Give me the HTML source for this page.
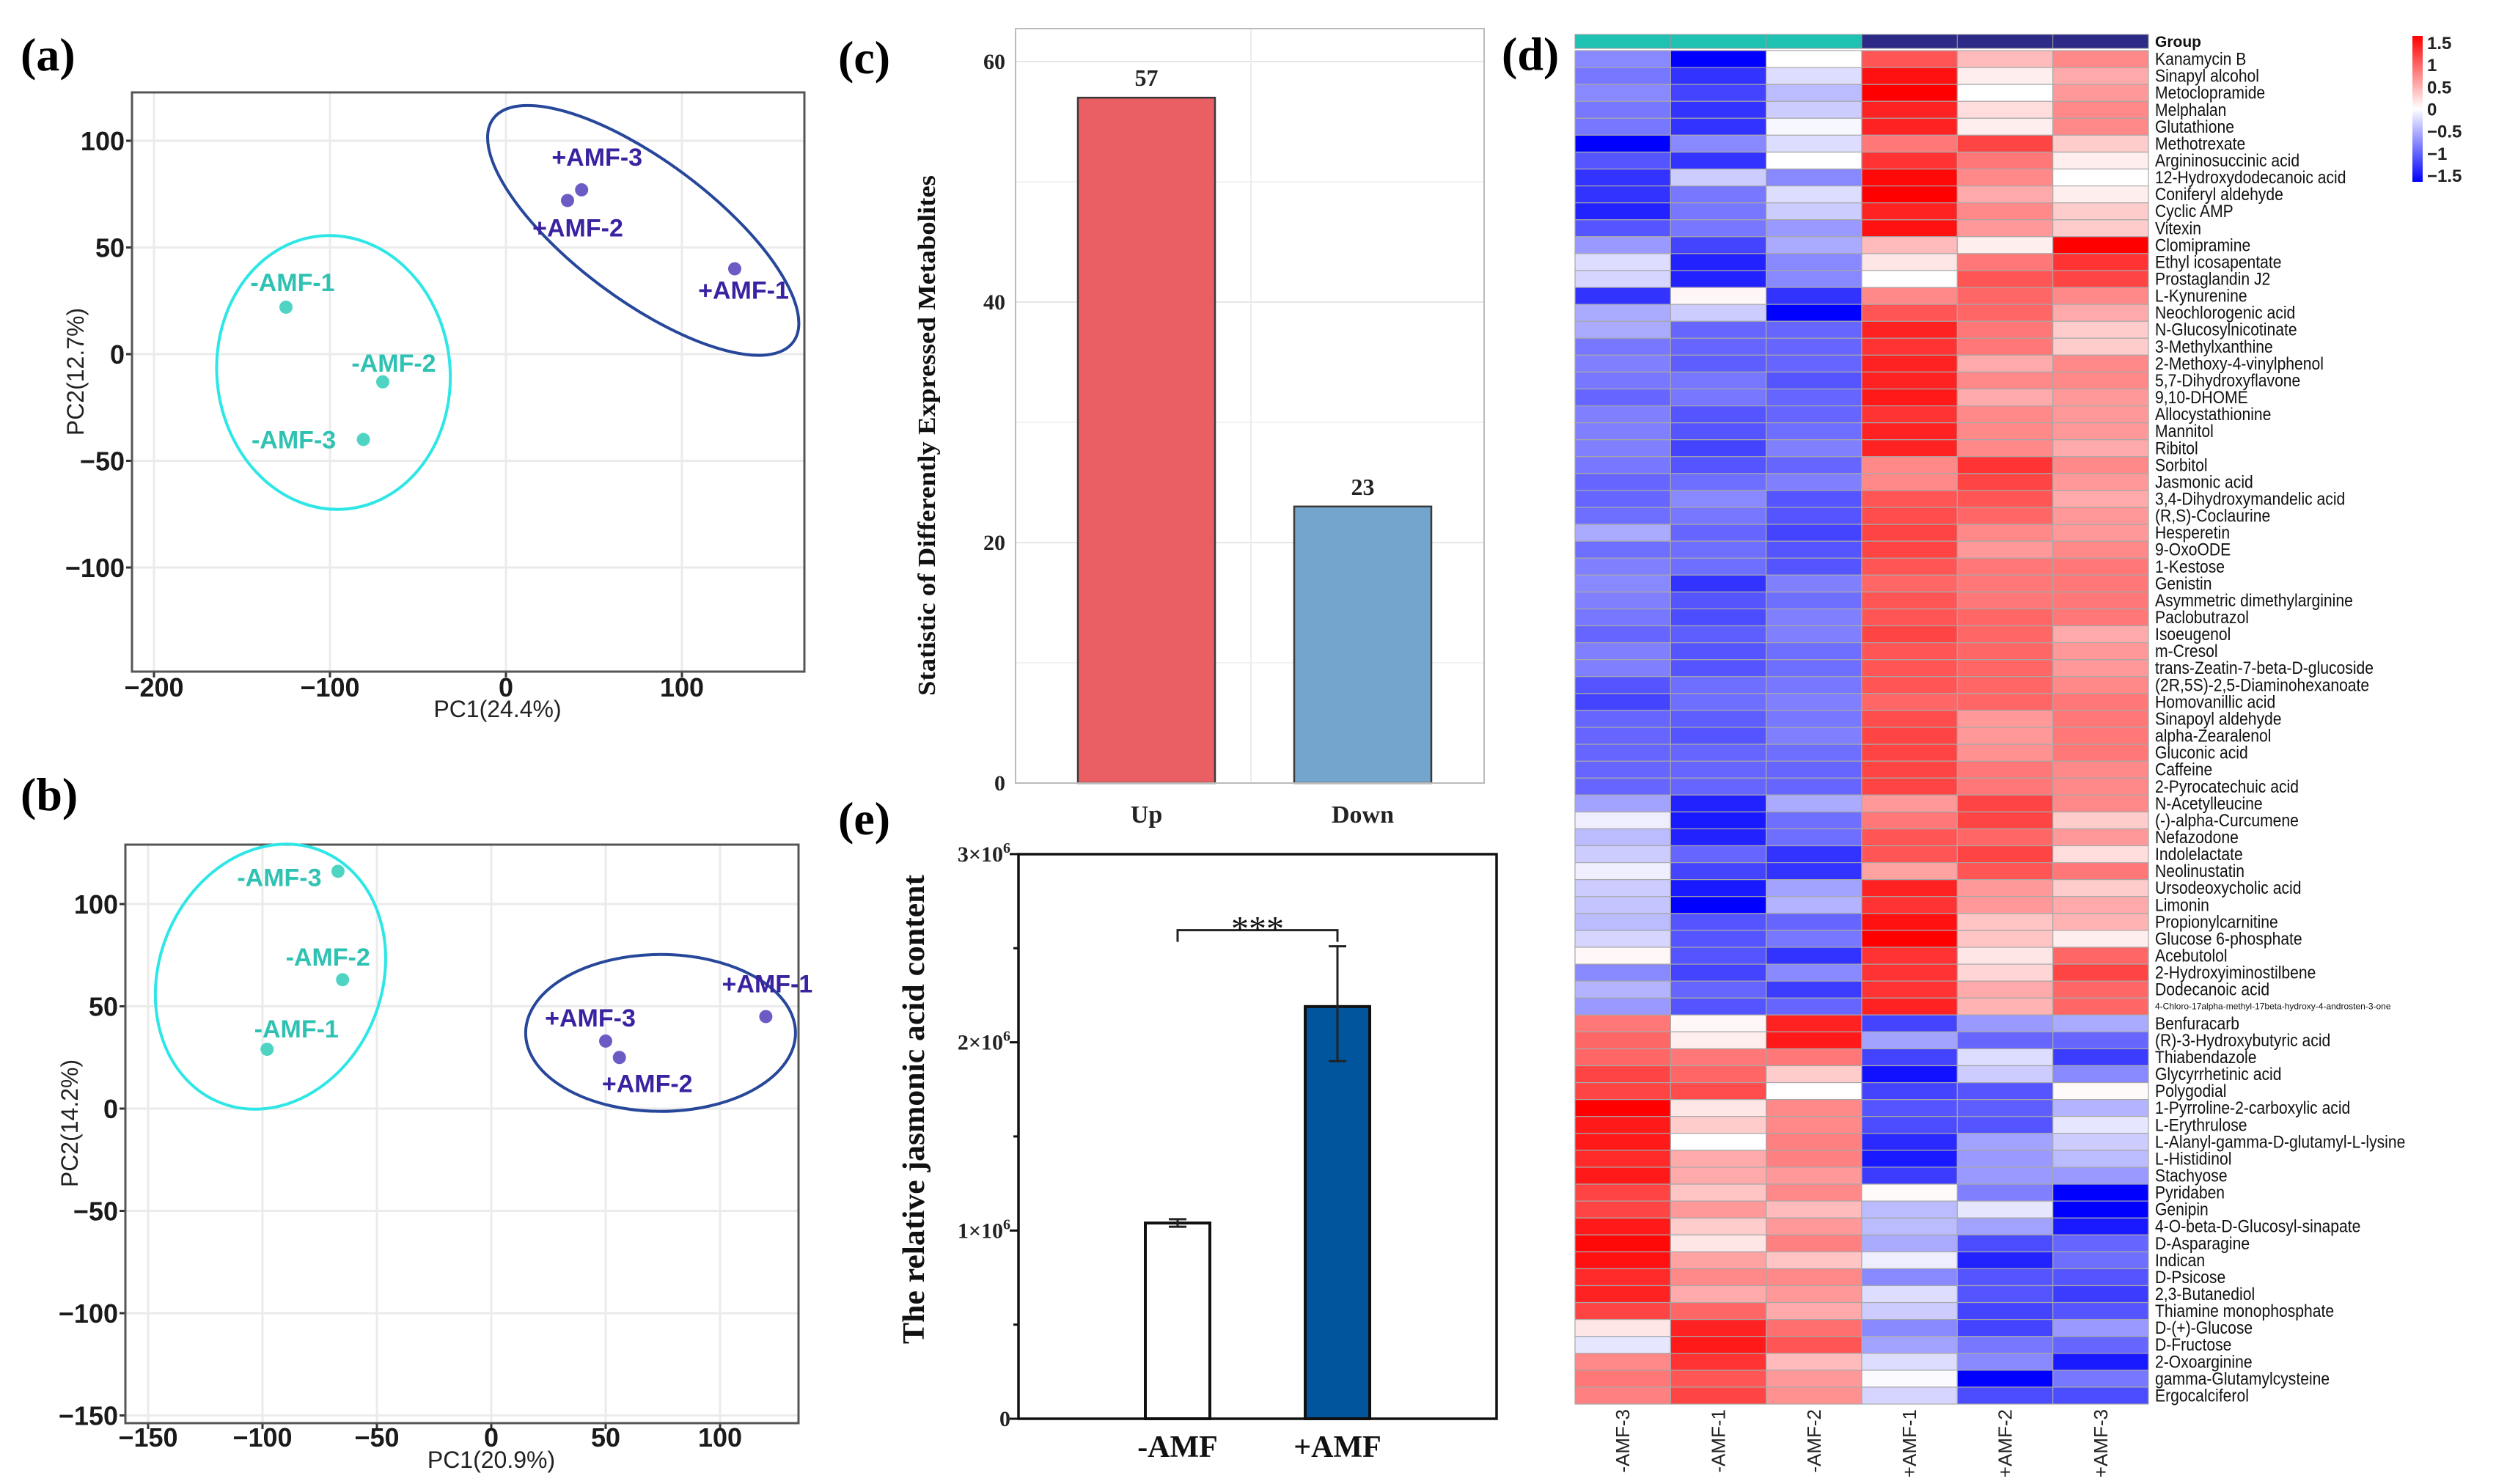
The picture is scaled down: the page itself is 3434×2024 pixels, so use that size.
<!DOCTYPE html>
<html><head><meta charset="utf-8"><style>
html,body{margin:0;padding:0;background:#fff}
svg{display:block}
text{font-family:"Liberation Sans",sans-serif}
.serif{font-family:"Liberation Serif",serif}
</style></head><body>
<svg id="fig" xmlns="http://www.w3.org/2000/svg" width="3434" height="2024" viewBox="0 0 3434 2024">
<rect width="3434" height="2024" fill="#fff"/>
<g id="pa"></g>
<g id="pb"></g>
<g id="pc"></g>
<g id="pe"></g>
<g id="pd"></g>
</svg>
<script>
const NS="http://www.w3.org/2000/svg";
// ---------- data ----------
const pcaALabels=["-AMF-1","-AMF-2","-AMF-3","+AMF-1","+AMF-2","+AMF-3"];
const pcaAX=[-125,-70,-81,130,35,43];
const pcaAY=[22,-13,-40,40,72,77];
const pcaBLabels=["-AMF-1","-AMF-2","-AMF-3","+AMF-1","+AMF-2","+AMF-3"];
const pcaBX=[-98,-65,-67,120,56,50];
const pcaBY=[29,63,116,45,25,33];
const pcaAXTicks=[-200,-100,0,100];
const pcaAYTicks=[100,50,0,-50,-100];
const pcaBXTicks=[-150,-100,-50,0,50,100];
const pcaBYTicks=[100,50,0,-50,-100,-150];
const degCats=["Up","Down"];
const degVals=[57,23];
const degTicks=[0,20,40,60];
const jaCats=["-AMF","+AMF"];
const jaVals=[1.04,2.19];
const jaErrLo=[1.02,1.90];
const jaErrHi=[1.06,2.51];
const jaTicks=[0,1,2,3];
const hmCols=["-AMF-3","-AMF-1","-AMF-2","+AMF-1","+AMF-2","+AMF-3"];
const hmRows=["Kanamycin B","Sinapyl alcohol","Metoclopramide","Melphalan","Glutathione","Methotrexate","Argininosuccinic acid","12-Hydroxydodecanoic acid","Coniferyl aldehyde","Cyclic AMP","Vitexin","Clomipramine","Ethyl icosapentate","Prostaglandin J2","L-Kynurenine","Neochlorogenic acid","N-Glucosylnicotinate","3-Methylxanthine","2-Methoxy-4-vinylphenol","5,7-Dihydroxyflavone","9,10-DHOME","Allocystathionine","Mannitol","Ribitol","Sorbitol","Jasmonic acid","3,4-Dihydroxymandelic acid","(R,S)-Coclaurine","Hesperetin","9-OxoODE","1-Kestose","Genistin","Asymmetric dimethylarginine","Paclobutrazol","Isoeugenol","m-Cresol","trans-Zeatin-7-beta-D-glucoside","(2R,5S)-2,5-Diaminohexanoate","Homovanillic acid","Sinapoyl aldehyde","alpha-Zearalenol","Gluconic acid","Caffeine","2-Pyrocatechuic acid","N-Acetylleucine","(-)-alpha-Curcumene","Nefazodone","Indolelactate","Neolinustatin","Ursodeoxycholic acid","Limonin","Propionylcarnitine","Glucose 6-phosphate","Acebutolol","2-Hydroxyiminostilbene","Dodecanoic acid","4-Chloro-17alpha-methyl-17beta-hydroxy-4-androsten-3-one","Benfuracarb","(R)-3-Hydroxybutyric acid","Thiabendazole","Glycyrrhetinic acid","Polygodial","1-Pyrroline-2-carboxylic acid","L-Erythrulose","L-Alanyl-gamma-D-glutamyl-L-lysine","L-Histidinol","Stachyose","Pyridaben","Genipin","4-O-beta-D-Glucosyl-sinapate","D-Asparagine","Indican","D-Psicose","2,3-Butanediol","Thiamine monophosphate","D-(+)-Glucose","D-Fructose","2-Oxoarginine","gamma-Glutamylcysteine","Ergocalciferol"];
const hmVals=[
[-0.7,-1.5,0,1.0,0.4,0.7],[-0.8,-1.2,-0.2,1.4,0.1,0.5],[-0.7,-1.1,-0.4,1.5,0,0.6],[-0.8,-1.2,-0.3,1.3,0.2,0.7],[-0.8,-1.2,-0.05,1.3,0.1,0.7],
[-1.5,-0.7,-0.2,0.8,1.1,0.3],[-1.0,-1.2,0,1.2,0.8,0.1],[-1.2,-0.3,-0.7,1.45,0.7,0],[-1.2,-0.8,-0.2,1.5,0.5,0.1],[-1.3,-0.8,-0.3,1.3,0.7,0.3],
[-1.0,-0.8,-0.6,1.4,0.6,0.3],[-0.6,-1.1,-0.5,0.4,0.1,1.5],[-0.2,-1.3,-0.7,0.15,0.8,1.2],[-0.25,-1.3,-0.7,0,1.0,1.1],[-1.2,0.05,-1.2,0.7,0.9,0.7],
[-0.5,-0.3,-1.5,1.0,0.9,0.5],[-0.5,-0.9,-0.9,1.3,0.8,0.3],[-0.8,-0.9,-0.9,1.2,0.8,0.3],[-0.75,-0.95,-0.9,1.3,0.5,0.7],[-0.8,-0.8,-1.0,1.3,0.7,0.7],
[-0.9,-0.8,-0.9,1.35,0.5,0.6],[-0.75,-1.0,-0.9,1.2,0.7,0.6],[-0.75,-1.0,-0.85,1.3,0.7,0.6],[-0.75,-1.1,-0.75,1.3,0.7,0.5],[-0.8,-1.0,-0.9,0.7,1.2,0.7],
[-0.9,-0.85,-0.75,0.7,1.1,0.6],[-0.9,-0.7,-1.0,1.0,1.0,0.5],[-0.85,-0.8,-1.0,1.05,0.9,0.6],[-0.5,-0.9,-1.1,1.1,0.7,0.6],[-0.85,-0.85,-1.0,1.1,0.6,0.7],
[-0.75,-0.85,-1.0,1.0,0.8,0.8],[-0.7,-1.2,-0.75,0.9,0.8,0.8],[-0.75,-1.0,-0.85,1.0,0.8,0.8],[-0.8,-1.05,-0.75,1.0,0.9,0.8],[-0.9,-0.95,-0.75,1.1,0.9,0.5],
[-0.75,-1.0,-0.85,1.0,0.9,0.6],[-0.75,-1.0,-0.85,1.0,0.9,0.6],[-1.0,-0.85,-0.8,1.0,0.9,0.7],[-1.1,-0.85,-0.75,0.9,0.9,0.8],[-0.9,-0.95,-0.8,1.05,0.6,0.8],
[-0.9,-1.0,-0.75,1.1,0.6,0.8],[-0.9,-0.9,-0.85,1.1,0.65,0.8],[-0.9,-0.9,-0.9,1.1,0.8,0.7],[-0.9,-0.9,-0.9,1.1,0.8,0.7],[-0.55,-1.3,-0.5,0.6,1.1,0.7],
[-0.1,-1.35,-0.85,0.8,1.1,0.3],[-0.4,-1.3,-0.85,1.0,0.9,0.6],[-0.3,-0.9,-1.2,1.0,1.1,0.2],[-0.1,-1.1,-1.2,0.55,1.0,0.8],[-0.3,-1.35,-0.55,1.3,0.6,0.3],
[-0.35,-1.5,-0.45,1.2,0.6,0.5],[-0.4,-1.0,-0.9,1.4,0.35,0.45],[-0.25,-1.0,-0.8,1.5,0.35,0.1],[0.05,-1.0,-1.2,1.2,0.15,0.9],[-0.7,-1.1,-0.7,1.2,0.25,1.1],
[-0.45,-0.9,-1.15,1.2,0.5,0.9],[-0.6,-1.0,-0.9,1.3,0.45,0.9],[0.8,0.05,1.3,-1.1,-0.6,-0.5],[0.9,0.1,1.35,-0.55,-0.9,-0.9],[0.9,0.8,0.8,-1.1,-0.2,-1.15],
[1.1,0.9,0.3,-1.4,-0.3,-0.7],[1.1,1.05,0,-1.1,-1.0,0.03],[1.5,0.15,0.7,-1.0,-0.95,-0.45],[1.35,0.3,0.7,-1.05,-1.0,-0.15],[1.35,0,0.75,-1.25,-0.55,-0.3],
[1.25,0.5,0.75,-1.35,-0.6,-0.4],[1.35,0.5,0.6,-1.15,-0.6,-0.6],[1.1,0.35,0.7,0.03,-0.75,-1.5],[1.1,0.6,0.4,-0.4,-0.15,-1.5],[1.35,0.3,0.6,-0.4,-0.55,-1.35],
[1.45,0.15,0.75,-0.5,-1.05,-0.9],[1.4,0.55,0.35,-0.1,-1.3,-0.85],[1.25,0.7,0.7,-0.7,-1.0,-1.0],[1.3,0.5,0.6,-0.2,-1.0,-1.15],[1.1,0.9,0.5,-0.3,-1.1,-1.0],
[0.15,1.3,0.85,-0.7,-1.1,-0.6],[-0.15,1.35,1.0,-0.55,-0.8,-0.9],[0.7,1.2,0.4,-0.2,-0.7,-1.35],[0.8,1.0,0.6,-0.03,-1.5,-0.8],[0.75,1.1,0.65,-0.25,-1.05,-1.05]];
const hmLegendTicks=[1.5,1,0.5,0,-0.5,-1,-1.5];
const hmLegendText=["1.5","1","0.5","0","\u22120.5","\u22121","\u22121.5"];

// ---------- helpers ----------
function el(tag,attrs,parent,txt){const e=document.createElementNS(NS,tag);for(const k in attrs)e.setAttribute(k,attrs[k]);if(txt!==undefined)e.textContent=txt;parent.appendChild(e);return e;}

// ---------- PCA panels ----------
function pca(gid,cfg){
  const g=document.getElementById(gid);
  const sx=v=>cfg.x0+v*cfg.kx, sy=v=>cfg.y0-v*cfg.ky;
  const bg=el('rect',{x:cfg.L,y:cfg.T,width:cfg.R-cfg.L,height:cfg.B-cfg.T,fill:'#fff'},g);
  
  
  cfg.xt.forEach(v=>{const l=el('line',{x1:sx(v),x2:sx(v),y1:cfg.T,y2:cfg.B,stroke:'#ebebeb','stroke-width':3},g);
    
    
    el('line',{x1:sx(v),x2:sx(v),y1:cfg.B,y2:cfg.B+8,stroke:'#333','stroke-width':3},g);
    const t=el('text',{x:sx(v),y:cfg.xlabY,'text-anchor':'middle','font-size':36,'font-weight':'bold',fill:'#1a1a1a'},g,String(v).replace('-','\u2212'));
    
    });
  cfg.yt.forEach(v=>{const l=el('line',{x1:cfg.L,x2:cfg.R,y1:sy(v),y2:sy(v),stroke:'#ebebeb','stroke-width':3},g);
    
    
    el('line',{x1:cfg.L-8,x2:cfg.L,y1:sy(v),y2:sy(v),stroke:'#333','stroke-width':3},g);
    const t=el('text',{x:cfg.L-10,y:sy(v)+13,'text-anchor':'end','font-size':36,'font-weight':'bold',fill:'#1a1a1a'},g,String(v).replace('-','\u2212'));
    
    });
  const fr=el('rect',{x:cfg.L,y:cfg.T,width:cfg.R-cfg.L,height:cfg.B-cfg.T,fill:'none',stroke:'#555','stroke-width':3},g);
  
  
  cfg.ell.forEach(e=>{const c=el('ellipse',{cx:sx(e.cx),cy:sy(e.cy),rx:e.rx,ry:e.ry,fill:'none',stroke:e.col,'stroke-width':4,transform:`rotate(${e.rot} ${sx(e.cx)} ${sy(e.cy)})`},g);
    
    });
  cfg.labels.forEach((lab,i)=>{const neg=lab[0]==='-';
    const p=el('circle',{cx:sx(cfg.X[i]),cy:sy(cfg.Y[i]),r:9,fill:neg?'#4fd4c4':'#6b5bc4'},g);
    
    
    const o=cfg.off[i];
    const t=el('text',{x:sx(cfg.X[i])+o[0],y:sy(cfg.Y[i])+o[1],'text-anchor':'middle','font-size':34,'font-weight':'bold',fill:neg?'#2fc2b2':'#3b22a0'},g,lab);
    
    });
  const lt=el('text',{x:cfg.lx,y:cfg.ly,'font-size':64,'font-weight':'bold',class:'serif',fill:'#000'},g,cfg.letter);
  
  
  const xt=el('text',{x:(cfg.L+cfg.R)/2+40,y:cfg.xtitleY,'text-anchor':'middle','font-size':32,fill:'#222'},g,cfg.xtitle);
  
  
  const yt=el('text',{x:0,y:0,'text-anchor':'middle','font-size':32,fill:'#222',transform:`translate(${cfg.ytitleX},${cfg.ytitleY}) rotate(-90)`},g,cfg.ytitle);
  
  
}
pca('pa',{L:180,R:1097,T:126,B:916,x0:690,kx:2.4,y0:483,ky:2.91,xt:pcaAXTicks,yt:pcaAYTicks,xlabY:950,
  X:pcaAX,Y:pcaAY,labels:pcaALabels,off:[[9,-22],[15,-14],[-95,12],[12,41],[14,49],[21,-33]],
  ell:[{cx:-98,cy:-8.6,rx:159,ry:187,rot:-6,col:'#2ee6e6'},{cx:78,cy:58,rx:255,ry:95,rot:36.7,col:'#27479a'}],
  letter:'(a)',lx:28,ly:96,xtitle:'PC1(24.4%)',xtitleY:978,ytitle:'PC2(12.7%)',ytitleX:114,ytitleY:507});
pca('pb',{L:171,R:1089,T:1152,B:1941,x0:670,kx:3.12,y0:1512,ky:2.79,xt:pcaBXTicks,yt:pcaBYTicks,xlabY:1973,
  X:pcaBX,Y:pcaBY,labels:pcaBLabels,off:[[40,-16],[-20,-19],[-80,20],[2,-33],[38,47],[-21,-20]],
  ell:[{cx:-96.5,cy:64.5,rx:152,ry:185,rot:22,col:'#2ee6e6'},{cx:74,cy:37,rx:184,ry:107,rot:0,col:'#27479a'}],
  letter:'(b)',lx:28,ly:1105,xtitle:'PC1(20.9%)',xtitleY:2002,ytitle:'PC2(14.2%)',ytitleX:106,ytitleY:1532});

// ---------- panel c ----------
(function(){
  const g=document.getElementById('pc');
  const L=1385,R=2024,T=39,B=1068,k=16.4;
  const sy=v=>B-v*k;
  const bx=[1470,1765],bw=187;
  for(let v=0;v<=60;v+=10){const l=el('line',{x1:L,x2:R,y1:sy(v),y2:sy(v),stroke:v%20===0?'#e6e6e6':'#f2f2f2','stroke-width':2},g);
    
    }
  el('line',{x1:1706,x2:1706,y1:T,y2:B,stroke:'#ececec','stroke-width':2},g);
  degTicks.forEach(v=>{const t=el('text',{x:1371,y:sy(v)+10,'text-anchor':'end','font-size':30,'font-weight':'bold',class:'serif',fill:'#222'},g,String(v));
    
    });
  const cols=['#e95f63','#74a5cd'];
  degVals.forEach((v,i)=>{const r=el('rect',{x:bx[i],y:sy(v),width:bw,height:B-sy(v),fill:cols[i],stroke:'#3a3a3a','stroke-width':2.5},g);
    
    
    const t=el('text',{x:bx[i]+bw/2,y:sy(v)-16,'text-anchor':'middle','font-size':32,'font-weight':'bold',class:'serif',fill:'#222'},g,String(v));
    
    
    const c=el('text',{x:bx[i]+bw/2,y:1122,'text-anchor':'middle','font-size':34,'font-weight':'bold',class:'serif',fill:'#222'},g,degCats[i]);
    
    });
  const fr=el('rect',{x:L,y:T,width:R-L,height:B-T,fill:'none',stroke:'#bbb','stroke-width':2},g);
  
  
  const yt=el('text',{x:0,y:0,'text-anchor':'middle','font-size':34,'font-weight':'bold',class:'serif',fill:'#111',textLength:710,lengthAdjust:'spacingAndGlyphs',transform:'translate(1275,594) rotate(-90)'},g,'Statistic of Differently Expressed Metabolites');
  
  
  const lt=el('text',{x:1143,y:100,'font-size':64,'font-weight':'bold',class:'serif'},g,'(c)');
  
  
})();

// ---------- panel e ----------
(function(){
  const g=document.getElementById('pe');
  const L=1389,R=2041,T=1165,B=1935,k=256.7;
  const sy=v=>B-v*k;
  const bx=[1562,1780],bw=88;
  for(let v=0;v<=3;v+=0.5){const l=el('line',{x1:L-(v%1===0?12:7),x2:L,y1:sy(v),y2:sy(v),stroke:'#111','stroke-width':3},g);
    
    }
  jaTicks.forEach(v=>{const t=el('text',{x:1378,y:sy(v)+10,'text-anchor':'end','font-size':30,'font-weight':'bold',class:'serif',fill:'#222'},g);
    
    
    if(v===0){t.textContent='0';}else{t.textContent=v+'\u00d710';el('tspan',{dy:-12,'font-size':20},t,'6');}});
  const cols=['#ffffff','#01559c'];
  jaVals.forEach((v,i)=>{const r=el('rect',{x:bx[i],y:sy(v),width:bw,height:B-sy(v),fill:cols[i],stroke:'#111','stroke-width':4},g);
    
    
    const cx=bx[i]+bw/2;
    const e=el('path',{d:`M${cx} ${sy(jaErrLo[i])}V${sy(jaErrHi[i])}M${cx-12} ${sy(jaErrLo[i])}H${cx+12}M${cx-12} ${sy(jaErrHi[i])}H${cx+12}`,stroke:'#222','stroke-width':3,fill:'none'},g);
    
    
    const c=el('text',{x:cx,y:1987,'text-anchor':'middle','font-size':42,'font-weight':'bold',class:'serif',fill:'#111'},g,jaCats[i]);
    
    });
  const by=sy(Math.max(...jaErrHi))-22;
  const br=el('path',{d:`M${bx[0]+bw/2} ${by+16}V${by}H${bx[1]+bw/2}V${by+16}`,stroke:'#222','stroke-width':3,fill:'none'},g);
  
  
  const st=el('text',{x:(bx[0]+bx[1]+bw)/2,y:by+14,'text-anchor':'middle','font-size':48,class:'serif',fill:'#111'},g,'***');
  
  
  const fr=el('rect',{x:L,y:T,width:R-L,height:B-T,fill:'none',stroke:'#111','stroke-width':3.5},g);
  
  
  const yt=el('text',{x:0,y:0,'text-anchor':'middle','font-size':42,'font-weight':'bold',class:'serif',fill:'#111',textLength:640,lengthAdjust:'spacingAndGlyphs',transform:'translate(1260,1513) rotate(-90)'},g,'The relative jasmonic acid content');
  
  
  const lt=el('text',{x:1143,y:1138,'font-size':64,'font-weight':'bold',class:'serif'},g,'(e)');
  
  
})();

// ---------- heatmap ----------
(function(){
  const g=document.getElementById('pd');
  const L=2148,R=2930,T=69,B=1915;
  const cw=(R-L)/hmCols.length, rh=(B-T)/hmRows.length;
  function col(v){v=Math.max(-1.5,Math.min(1.5,v));const f=Math.abs(v)/1.5;const o=Math.round(255*(1-f));
    return v>=0?`rgb(255,${o},${o})`:`rgb(${o},${o},255)`;}
  hmCols.forEach((c,j)=>{const r=el('rect',{x:L+j*cw,y:47,width:cw,height:19,fill:c[0]==='-'?'#1fc2b2':'#2c2a86',stroke:'#9a9a9a','stroke-width':1},g);
    
    
    const t=el('text',{x:0,y:0,'text-anchor':'end','font-size':26,fill:'#222',transform:`translate(${L+j*cw+cw/2+9},1922) rotate(-90)`},g,c);
    
    });
  const gt=el('text',{x:2939,y:64,'font-size':21,'font-weight':'bold',fill:'#111'},g,'Group');
  
  
  hmRows.forEach((name,i)=>{
    hmVals[i].forEach((v,j)=>{const r=el('rect',{x:L+j*cw,y:T+i*rh,width:cw,height:rh,fill:col(v),stroke:'#a8a8a8','stroke-width':1.2},g);
      
      });
    const small=name.length>40;
    const t=el('text',{x:0,y:0,'font-size':small?12:24,fill:'#111',transform:`translate(2939,${T+i*rh+rh/2+(small?4:8)}) scale(${small?1:0.88},1)`},g,name);
    
    });
  const defs=el('defs',{},g);
  const lg=el('linearGradient',{id:'cb',x1:0,y1:0,x2:0,y2:1},defs);
  el('stop',{offset:'0%','stop-color':'#ff0000'},lg);
  el('stop',{offset:'50%','stop-color':'#ffffff'},lg);
  el('stop',{offset:'100%','stop-color':'#0000ff'},lg);
  const cbT=49,cbB=248, cy=v=>(cbT+cbB)/2-v*(cbB-cbT)/3.3;
  const cb=el('rect',{x:3290,y:cbT,width:14,height:cbB-cbT,fill:'url(#cb)'},g);
  
  
  hmLegendTicks.forEach((v,i)=>{const t=el('text',{x:3310,y:cy(v)+9,'font-size':24,'font-weight':'bold',fill:'#222'},g,hmLegendText[i]);
    
    });
  const lt=el('text',{x:2048,y:95,'font-size':64,'font-weight':'bold',class:'serif'},g,'(d)');
  
  
})();
</script>
</body></html>
